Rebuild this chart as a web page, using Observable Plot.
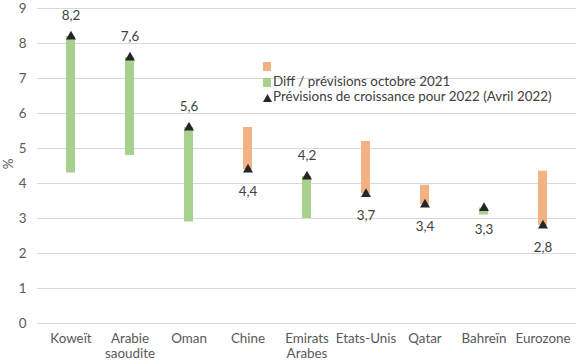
<!DOCTYPE html>
<html><head><meta charset="utf-8">
<script src="https://cdn.jsdelivr.net/npm/d3@7"></script>
<script src="https://cdn.jsdelivr.net/npm/@observablehq/plot@0.6"></script>
<style>
body{margin:0;background:#fff;font-family:Lato,"Open Sans",sans-serif;}
#wrap{position:relative;width:581px;height:364px;}
.leg{position:absolute;font-size:13.4px;color:#404040;white-space:nowrap;}
.sw{position:absolute;}
</style></head>
<body><div id="wrap"></div>
<script>
const countries = ["Koweït","Arabie\nsaoudite","Oman","Chine","Emirats\nArabes","Etats-Unis","Qatar","Bahreïn","Eurozone"];
const october2021 = [4.3, 4.8, 2.9, 5.6, 3.0, 5.2, 3.95, 3.1, 4.35];
const april2022 = [8.2, 7.6, 5.6, 4.4, 4.2, 3.7, 3.4, 3.3, 2.8];
const labels = ["8,2","7,6","5,6","4,4","4,2","3,7","3,4","3,3","2,8"];
const yTicks = [0,1,2,3,4,5,6,7,8,9];

const rows = countries.map((c,i)=>({c, oct: october2021[i], apr: april2022[i], lab: labels[i], up: april2022[i] >= october2021[i]}));
const green = "#a9d18e", orange = "#f4b183", dark = "#262626";

const chart = Plot.plot({
  width: 581, height: 364,
  marginLeft: 37, marginRight: 5, marginTop: 8, marginBottom: 41,
  style: {fontFamily: "Lato, 'Open Sans', sans-serif", fontSize: "13.4px", color: "#595959", background: "#fff"},
  x: {domain: countries, padding: 0, label: null},
  y: {domain: [0, 9], ticks: yTicks, label: null},
  marks: [
    Plot.ruleY(yTicks, {stroke: "#d9d9d9", strokeWidth: 1}),
    Plot.axisX({tickSize: 0, tickPadding: 9, lineHeight: 1.1, fontSize: 13.4, fill: "#595959", label: null}),
    Plot.axisY({ticks: yTicks, tickSize: 0, tickPadding: 11, fontSize: 13.4, fill: "#595959", label: null}),
    Plot.barY(rows, {x: "c", y1: "oct", y2: "apr", fill: d => d.up ? green : orange, insetLeft: 25, insetRight: 25}),
    Plot.dot(rows, {x: "c", y: "apr", symbol: "triangle", r: 3.7, fill: dark, stroke: null}),
    Plot.text(rows.filter(d => d.up && d.apr - d.oct > 0.5), {x: "c", y: "apr", text: "lab", dy: -21, fill: "#404040", fontSize: 13.4}),
    Plot.text(rows.filter(d => !(d.up && d.apr - d.oct > 0.5)), {x: "c", y: "apr", text: "lab", dy: 22, fill: "#404040", fontSize: 13.4})
  ]
});
const wrap = document.getElementById("wrap");
wrap.appendChild(chart);

const pct = document.createElement("div");
pct.className = "leg";
pct.textContent = "%";
pct.style.cssText += "left:3px;top:156px;transform:rotate(-90deg);color:#595959;";
wrap.appendChild(pct);

function sw(x,y,w,h,color){const d=document.createElement("div");d.className="sw";d.style.cssText=`left:${x}px;top:${y}px;width:${w}px;height:${h}px;background:${color}`;wrap.appendChild(d);}
function txt(x,y,t){const d=document.createElement("div");d.className="leg";d.style.left=x+"px";d.style.top=y+"px";d.textContent=t;wrap.appendChild(d);}
sw(263,62,8,9,orange);
sw(263,78,8,9,green);
const tri=document.createElementNS("http://www.w3.org/2000/svg","svg");
tri.setAttribute("width","9");tri.setAttribute("height","8");
tri.style.cssText="position:absolute;left:263px;top:94px;";
tri.innerHTML='<path d="M4.5 0L9 8H0Z" fill="#262626"/>';
wrap.appendChild(tri);
txt(273,73,"Diff / prévisions octobre 2021");
txt(273,88,"Prévisions de croissance pour 2022 (Avril 2022)");
</script></body></html>
